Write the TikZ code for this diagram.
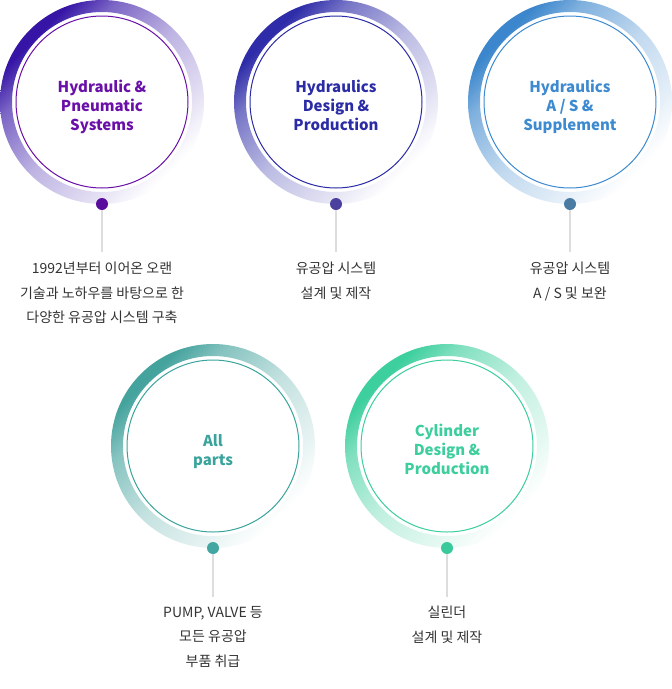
\documentclass[tikz,border=0pt]{standalone}
\usepackage{fontspec}
\setmainfont{Noto Sans CJK KR}
\definecolor{ringHyd}{HTML}{3514A6}
\definecolor{textHyd}{HTML}{6A10A8}
\definecolor{knobHyd}{HTML}{5A0C9E}
\definecolor{ringDes}{HTML}{2E2CA8}
\definecolor{textDes}{HTML}{2B2BA6}
\definecolor{knobDes}{HTML}{4B409E}
\definecolor{ringSup}{HTML}{3B86CC}
\definecolor{textSup}{HTML}{3D8AD0}
\definecolor{knobSup}{HTML}{4A7CA3}
\definecolor{ringAll}{HTML}{45A39E}
\definecolor{textAll}{HTML}{3AA39C}
\definecolor{knobAll}{HTML}{44A6A0}
\definecolor{ringCyl}{HTML}{3DCF9D}
\definecolor{textCyl}{HTML}{3CCE9B}
\definecolor{knobCyl}{HTML}{3AC99B}
\definecolor{stemGray}{HTML}{DDDDDD}
\definecolor{bodyText}{HTML}{333333}
\colorlet{ringTone}{ringHyd}
\pgfdeclareverticalshading[ringTone]{ringfade}{100bp}{color(0bp)=(white); color(26bp)=(white); color(35bp)=(ringTone!14!white); color(50bp)=(ringTone!32!white); color(65bp)=(ringTone!65!white); color(73bp)=(ringTone); color(100bp)=(ringTone)}
\tikzset{
  ring/.style={even odd rule, /utils/exec={\colorlet{ringTone}{#1}}, shading=ringfade, shading angle=45},
  rim/.style={line width=1pt},
  knob/.style={circle, inner sep=0pt, minimum size=12pt},
  stem/.style={draw=stemGray, line width=2pt},
  title/.style={align=center, inner sep=0pt, font=\bfseries\fontsize{15}{19}\selectfont},
  caption/.style={align=center, inner sep=0pt, anchor=north, text=bodyText, font=\fontsize{14}{24.5}\selectfont}
}

\begin{document}
\begin{tikzpicture}[x=1pt, y=-1pt]
  \useasboundingbox (0,0) rectangle (672,689);

  \shade[ring=ringHyd] (102,102) circle[radius=102] (102,102) circle[radius=90];
  \draw[rim, textHyd] (102,102) circle[radius=86];
  \node[title, text=textHyd] (titleHyd) at (102,107) {Hydraulic \&\\Pneumatic\\Systems};
  \node[caption] (capHyd) at (102,262) {1992년부터 이어온 오랜\\기술과 노하우를 바탕으로 한\\다양한 유공압 시스템 구축};
  \coordinate (endHyd) at (102,252);
  \node[knob, fill=knobHyd] (knobHyd) at (102,204) {};
  \draw[stem] (knobHyd) -- (endHyd);

  \shade[ring=ringDes] (336,102) circle[radius=102] (336,102) circle[radius=90];
  \draw[rim, textDes] (336,102) circle[radius=86];
  \node[title, text=textDes] (titleDes) at (336,105) {Hydraulics\\Design \&\\Production};
  \node[caption] (capDes) at (336,262) {유공압 시스템\\설계 및 제작};
  \coordinate (endDes) at (336,252);
  \node[knob, fill=knobDes] (knobDes) at (336,204) {};
  \draw[stem] (knobDes) -- (endDes);

  \shade[ring=ringSup] (570,102) circle[radius=102] (570,102) circle[radius=90];
  \draw[rim, textSup] (570,102) circle[radius=86];
  \node[title, text=textSup] (titleSup) at (570,107) {Hydraulics\\A / S \&\\Supplement};
  \node[caption] (capSup) at (570,262) {유공압 시스템\\A / S 및 보완};
  \coordinate (endSup) at (570,252);
  \node[knob, fill=knobSup] (knobSup) at (570,204) {};
  \draw[stem] (knobSup) -- (endSup);

  \shade[ring=ringAll] (213,446) circle[radius=102] (213,446) circle[radius=90];
  \draw[rim, textAll] (213,446) circle[radius=86];
  \node[title, text=textAll] (titleAll) at (213,452) {All\\parts};
  \node[caption] (capAll) at (213,606) {PUMP, VALVE 등\\모든 유공압\\부품 취급};
  \coordinate (endAll) at (213,597);
  \node[knob, fill=knobAll] (knobAll) at (213,548) {};
  \draw[stem] (knobAll) -- (endAll);

  \shade[ring=ringCyl] (447,446) circle[radius=102] (447,446) circle[radius=90];
  \draw[rim, textCyl] (447,446) circle[radius=86];
  \node[title, text=textCyl] (titleCyl) at (447,449) {Cylinder\\Design \&\\Production};
  \node[caption] (capCyl) at (447,606) {실린더\\설계 및 제작};
  \coordinate (endCyl) at (447,597);
  \node[knob, fill=knobCyl] (knobCyl) at (447,548) {};
  \draw[stem] (knobCyl) -- (endCyl);
\end{tikzpicture}
\end{document}
